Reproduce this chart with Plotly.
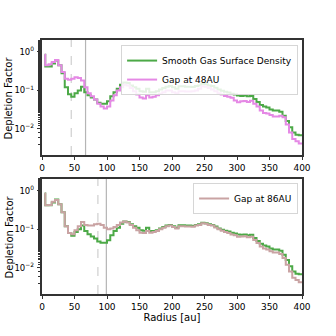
import plotly.graph_objects as go
from plotly.subplots import make_subplots

# radius grid [au]
radius = [4] + list(range(5, 401, 5))

smooth_gas = [
    0.85, 0.42, 0.42, 0.5, 0.6, 0.45, 0.28, 0.12, 0.08, 0.068,
    0.085, 0.1, 0.125, 0.09, 0.075, 0.065, 0.058, 0.048, 0.045, 0.045,
    0.052, 0.07, 0.09, 0.11, 0.14, 0.16, 0.155, 0.135, 0.12, 0.11,
    0.095, 0.092, 0.11, 0.09, 0.09, 0.095, 0.105, 0.115, 0.125, 0.13,
    0.12, 0.11, 0.128, 0.128, 0.125, 0.125, 0.122, 0.13, 0.135, 0.148,
    0.145, 0.135, 0.13, 0.118, 0.105, 0.098, 0.092, 0.088, 0.082, 0.078,
    0.074, 0.072, 0.074, 0.07, 0.072, 0.06, 0.05, 0.042, 0.038, 0.036,
    0.032, 0.03, 0.03, 0.028, 0.022, 0.016, 0.011, 0.008, 0.007, 0.0068,
    0.0068,
]

gap_48 = [
    0.85, 0.45, 0.48, 0.55, 0.62, 0.45, 0.3, 0.2, 0.19, 0.2,
    0.22, 0.21, 0.18, 0.12, 0.085, 0.07, 0.058, 0.045, 0.038, 0.034,
    0.038, 0.055, 0.075, 0.1, 0.12, 0.14, 0.135, 0.115, 0.095, 0.078,
    0.065, 0.062, 0.075, 0.065, 0.068, 0.075, 0.082, 0.09, 0.1, 0.1,
    0.09, 0.085, 0.095, 0.095, 0.094, 0.093, 0.095, 0.1, 0.11, 0.128,
    0.125, 0.115, 0.105, 0.095, 0.085, 0.078, 0.072, 0.068, 0.064, 0.055,
    0.049, 0.052, 0.053, 0.05, 0.054, 0.045, 0.038, 0.03, 0.026, 0.025,
    0.023, 0.021, 0.021, 0.022, 0.02, 0.013, 0.008, 0.0055, 0.0048, 0.0042,
    0.0042,
]

gap_86 = [
    0.85, 0.42, 0.43, 0.52, 0.58, 0.45, 0.28, 0.12, 0.08, 0.075,
    0.095, 0.12, 0.155, 0.13, 0.125, 0.125, 0.135, 0.14, 0.13, 0.11,
    0.1, 0.105, 0.115, 0.13, 0.15, 0.16, 0.15, 0.13, 0.11, 0.095,
    0.082, 0.08, 0.09, 0.082, 0.085, 0.09, 0.1, 0.11, 0.12, 0.125,
    0.115, 0.105, 0.12, 0.12, 0.118, 0.118, 0.116, 0.125, 0.13, 0.145,
    0.14, 0.13, 0.125, 0.112, 0.1, 0.092, 0.085, 0.08, 0.074, 0.07,
    0.064, 0.065, 0.066, 0.062, 0.064, 0.053, 0.044, 0.036, 0.032, 0.03,
    0.027, 0.025, 0.025, 0.023, 0.018, 0.012, 0.008, 0.0055, 0.0048, 0.0042,
    0.0042,
]

# (dashed, solid) marker lines for each panel
top_lines = (45, 67)
bottom_lines = (86, 99)

x_ticks = [0, 50, 100, 150, 200, 250, 300, 350, 400]
y_ticks = [1, 0.1, 0.01]
y_ticktext = ["10<sup>0</sup>", "10<sup>\u22121</sup>", "10<sup>\u22122</sup>"]

GREEN = "#4ca947"
VIOLET = "#e589e5"
ROSY = "#c9a3a3"
FONT = "DejaVu Sans"

fig = make_subplots(rows=2, cols=1, vertical_spacing=0.094)

fig.add_trace(go.Scatter(x=radius, y=smooth_gas, mode="lines", line_shape="hv",
                         line=dict(color=GREEN, width=2),
                         name="Smooth Gas Surface Density", legend="legend"), row=1, col=1)
fig.add_trace(go.Scatter(x=radius, y=gap_48, mode="lines", line_shape="hv",
                         line=dict(color=VIOLET, width=2),
                         name="Gap at 48AU", legend="legend"), row=1, col=1)
fig.add_trace(go.Scatter(x=radius, y=smooth_gas, mode="lines", line_shape="hv",
                         line=dict(color=GREEN, width=2),
                         showlegend=False), row=2, col=1)
fig.add_trace(go.Scatter(x=radius, y=gap_86, mode="lines", line_shape="hv",
                         line=dict(color=ROSY, width=2),
                         name="Gap at 86AU", legend="legend2"), row=2, col=1)

for row, (dashed, solid) in ((1, top_lines), (2, bottom_lines)):
    fig.add_vline(x=dashed, line=dict(color="#cfcfcf", width=1.2, dash="dash"),
                  row=row, col=1, layer="below")
    fig.add_vline(x=solid, line=dict(color="#b5b5b5", width=1.2),
                  row=row, col=1, layer="below")

axis_style = dict(showline=True, linecolor="#333333", linewidth=1.5, mirror=True,
                  ticks="outside", ticklen=3.5, tickwidth=1, tickcolor="#333333",
                  showgrid=False, zeroline=False, automargin=False,
                  tickfont=dict(family=FONT, size=9, color="black"))

fig.update_xaxes(range=[0, 400], tickvals=x_ticks, **axis_style)
fig.update_yaxes(type="log", range=[-2.68, 0.31], tickvals=y_ticks, ticktext=y_ticktext,
                 minor=dict(ticks="outside", ticklen=2, tickcolor="#333333", showgrid=False),
                 **axis_style)
fig.update_yaxes(tickfont=dict(family=FONT, size=8.5, color="black"), ticklabelstandoff=1)
fig.update_xaxes(title=dict(text="Radius [au]", standoff=2,
                            font=dict(family=FONT, size=10, color="black")), row=2, col=1)

# y titles as annotations so they sit clear of the tick labels
for axis in ("yaxis", "yaxis2"):
    lo, hi = fig.layout[axis].domain
    fig.add_annotation(text="Depletion Factor", textangle=-90,
                       xref="paper", yref="paper", x=-0.127, y=(lo + hi) / 2,
                       xanchor="center", yanchor="middle", showarrow=False,
                       font=dict(family=FONT, size=10, color="black"))

legend_style = dict(bgcolor="rgba(255,255,255,0.85)", bordercolor="#d6d6d6", borderwidth=1,
                    font=dict(family=FONT, size=9, color="black"),
                    xanchor="right", yanchor="top", itemwidth=30,
                    tracegroupgap=0)

fig.update_layout(
    width=336, height=336,
    margin=dict(l=42, r=34, t=40, b=42),
    paper_bgcolor="white", plot_bgcolor="white",
    font=dict(family=FONT, size=9, color="black"),
    legend=dict(x=0.985, y=0.98, **legend_style),
    legend2=dict(x=0.985, y=0.437, **legend_style),
)

# drop the default 8px page margin so the figure fills the window
fig.write_html("out.html", config={"displayModeBar": False},
               post_script="document.body.style.margin = '0';")
